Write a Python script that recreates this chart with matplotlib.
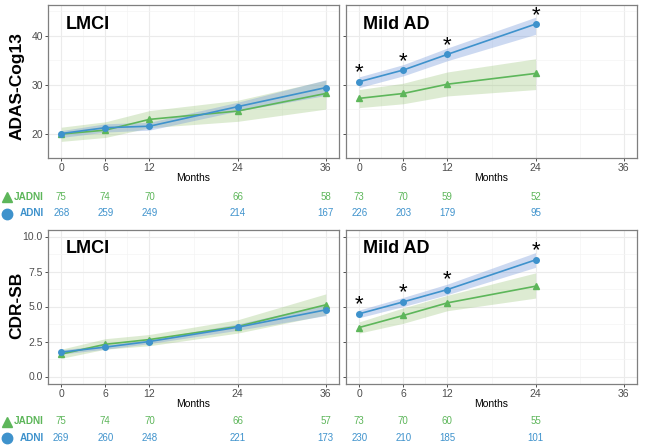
import matplotlib.pyplot as plt
import matplotlib.transforms as mtransforms
from matplotlib.lines import Line2D
import numpy as np

plt.rcParams['font.family'] = ['Liberation Sans', 'DejaVu Sans']

# Datos
meses = [0, 6, 12, 24, 36]
meses_ad = [0, 6, 12, 24]

# ADAS-Cog13, LMCI
adas_lmci_adni = [20.0, 21.2, 21.5, 25.5, 29.4]
adas_lmci_adni_lo = [19.2, 20.3, 20.7, 24.6, 27.8]
adas_lmci_adni_hi = [20.6, 22.0, 22.3, 26.4, 31.0]
adas_lmci_jadni = [19.9, 20.7, 22.9, 24.6, 28.2]
adas_lmci_jadni_lo = [18.4, 19.2, 21.2, 22.5, 25.0]
adas_lmci_jadni_hi = [21.3, 22.4, 24.7, 26.8, 30.9]

# ADAS-Cog13, Mild AD
adas_ad_adni = [30.6, 33.0, 36.2, 42.4]
adas_ad_adni_lo = [29.4, 31.8, 34.9, 40.3]
adas_ad_adni_hi = [31.6, 34.1, 37.5, 43.8]
adas_ad_jadni = [27.2, 28.2, 30.1, 32.3]
adas_ad_jadni_lo = [25.3, 26.1, 27.7, 29.0]
adas_ad_jadni_hi = [29.0, 30.3, 32.6, 35.3]

# CDR-SB, LMCI
cdr_lmci_adni = [1.74, 2.1, 2.5, 3.52, 4.76]
cdr_lmci_adni_lo = [1.6, 1.95, 2.35, 3.3, 4.35]
cdr_lmci_adni_hi = [1.9, 2.25, 2.65, 3.75, 5.15]
cdr_lmci_jadni = [1.6, 2.3, 2.64, 3.57, 5.12]
cdr_lmci_jadni_lo = [1.3, 1.95, 2.2, 3.1, 4.4]
cdr_lmci_jadni_hi = [1.95, 2.7, 3.0, 4.05, 5.9]

# CDR-SB, Mild AD
cdr_ad_adni = [4.48, 5.33, 6.21, 8.33]
cdr_ad_adni_lo = [4.2, 5.0, 5.85, 7.8]
cdr_ad_adni_hi = [4.75, 5.65, 6.6, 8.85]
cdr_ad_jadni = [3.5, 4.36, 5.26, 6.45]
cdr_ad_jadni_lo = [3.1, 3.8, 4.7, 5.6]
cdr_ad_jadni_hi = [3.9, 4.9, 5.8, 7.4]

# Número de sujetos
n_adas_lmci_jadni = [75, 74, 70, 66, 58]
n_adas_lmci_adni = [268, 259, 249, 214, 167]
n_adas_ad_jadni = [73, 70, 59, 52]
n_adas_ad_adni = [226, 203, 179, 95]
n_cdr_lmci_jadni = [75, 74, 70, 66, 57]
n_cdr_lmci_adni = [269, 260, 248, 221, 173]
n_cdr_ad_jadni = [73, 70, 60, 55]
n_cdr_ad_adni = [230, 210, 185, 101]

VERDE = '#5db65a'
AZUL = '#3e92cc'
VERDE_BANDA = '#8fbf6a'
AZUL_BANDA = '#6f93d8'
GRIS = '#4d4d4d'

W, H = 645, 447
fig = plt.figure(figsize=(W / 100, H / 100), dpi=100)


def caja(x0, y0, x1, y1):
    return [x0 / W, 1 - y1 / H, (x1 - x0) / W, (y1 - y0) / H]


def estilo(ax, ylim, yticks, yminor, ylabels):
    ax.set_xlim(-1.8, 37.8)
    ax.set_ylim(*ylim)
    ax.set_xticks([0, 6, 12, 24, 36])
    ax.set_xticks([3, 9, 18, 30], minor=True)
    ax.set_yticks(yticks)
    ax.set_yticks(yminor, minor=True)
    if ylabels is None:
        ax.set_yticklabels([])
    else:
        ax.set_yticklabels(ylabels)
    ax.grid(which='major', color='#ebebeb', linewidth=0.8)
    ax.grid(which='minor', color='#f4f4f4', linewidth=0.5)
    ax.set_axisbelow(True)
    ax.tick_params(which='major', length=2.2, width=0.6, color='#333333',
                   labelsize=7.5, labelcolor=GRIS, pad=1.5)
    ax.tick_params(which='minor', length=0)
    for s in ax.spines.values():
        s.set_color('#7f7f7f')
        s.set_linewidth(0.9)
    ax.set_xlabel('Months', fontsize=7.5, labelpad=0)


def panel(ax, x, jad, jlo, jhi, adn, alo, ahi, titulo, estrellas, off):
    ax.fill_between(x, jlo, jhi, color=VERDE_BANDA, alpha=0.3, lw=0, zorder=2)
    ax.fill_between(x, alo, ahi, color=AZUL_BANDA, alpha=0.35, lw=0, zorder=2)
    ax.plot(x, jad, color=VERDE, lw=1.2, marker='^', ms=4.5, zorder=3)
    ax.plot(x, adn, color=AZUL, lw=1.2, marker='o', ms=4, zorder=4)
    ax.text(0.06, 0.93, titulo, transform=ax.transAxes, fontsize=13,
            fontweight='bold', va='top', ha='left')
    if estrellas:
        for xi, yi in zip(x, adn):
            ax.text(xi, yi + off, '*', fontsize=16, ha='center', va='center')


def tabla(ax, x, nj, na, yj, ya):
    trans = mtransforms.blended_transform_factory(ax.transData, fig.transFigure)
    for xi, v in zip(x, nj):
        fig.text(xi, 1 - yj / H, str(v), transform=trans, color=VERDE,
                 fontsize=7, ha='center', va='center')
    for xi, v in zip(x, na):
        fig.text(xi, 1 - ya / H, str(v), transform=trans, color=AZUL,
                 fontsize=7, ha='center', va='center')


def leyenda(yj, ya):
    fig.add_artist(Line2D([7 / W], [1 - yj / H], marker='^', ms=7.5, color=VERDE,
                          ls='', transform=fig.transFigure))
    fig.add_artist(Line2D([7 / W], [1 - ya / H], marker='o', ms=7.5, color=AZUL,
                          ls='', transform=fig.transFigure))
    fig.text(44 / W, 1 - yj / H, 'JADNI', color=VERDE, fontsize=7.2,
             fontweight='bold', ha='right', va='center')
    fig.text(44 / W, 1 - ya / H, 'ADNI', color=AZUL, fontsize=7.2,
             fontweight='bold', ha='right', va='center')


# Fila superior: ADAS-Cog13
ax1 = fig.add_axes(caja(48, 5, 339, 158))
ax2 = fig.add_axes(caja(346, 5, 637, 158))
# Fila inferior: CDR-SB
ax3 = fig.add_axes(caja(48, 229.5, 339, 383.5))
ax4 = fig.add_axes(caja(346, 229.5, 637, 383.5))

ylim_adas = (16.8, 46.3)
ylim_cdr = (-0.5, 10.5)

panel(ax1, meses, adas_lmci_jadni, adas_lmci_jadni_lo, adas_lmci_jadni_hi,
      adas_lmci_adni, adas_lmci_adni_lo, adas_lmci_adni_hi, 'LMCI', False, 0)
panel(ax2, meses_ad, adas_ad_jadni, adas_ad_jadni_lo, adas_ad_jadni_hi,
      adas_ad_adni, adas_ad_adni_lo, adas_ad_adni_hi, 'Mild AD', True, 1.8)
panel(ax3, meses, cdr_lmci_jadni, cdr_lmci_jadni_lo, cdr_lmci_jadni_hi,
      cdr_lmci_adni, cdr_lmci_adni_lo, cdr_lmci_adni_hi, 'LMCI', False, 0)
panel(ax4, meses_ad, cdr_ad_jadni, cdr_ad_jadni_lo, cdr_ad_jadni_hi,
      cdr_ad_adni, cdr_ad_adni_lo, cdr_ad_adni_hi, 'Mild AD', True, 0.68)

estilo(ax1, ylim_adas, [20, 30, 40], [15, 25, 35, 45], ['20', '30', '40'])
estilo(ax2, ylim_adas, [20, 30, 40], [15, 25, 35, 45], None)
cdr_ticks = [0, 2.5, 5.0, 7.5, 10.0]
estilo(ax3, ylim_cdr, cdr_ticks, [1.25, 3.75, 6.25, 8.75],
       ['0.0', '2.5', '5.0', '7.5', '10.0'])
estilo(ax4, ylim_cdr, cdr_ticks, [1.25, 3.75, 6.25, 8.75], None)

ax1.set_ylabel('ADAS-Cog13', fontsize=12.5, fontweight='bold')
ax1.yaxis.set_label_coords(-0.079, 0.47)
ax3.set_ylabel('CDR-SB', fontsize=12.5, fontweight='bold')
ax3.yaxis.set_label_coords(-0.082, 0.506)

tabla(ax1, meses, n_adas_lmci_jadni, n_adas_lmci_adni, 197, 213.5)
tabla(ax2, meses_ad, n_adas_ad_jadni, n_adas_ad_adni, 197, 213.5)
tabla(ax3, meses, n_cdr_lmci_jadni, n_cdr_lmci_adni, 421.5, 438)
tabla(ax4, meses_ad, n_cdr_ad_jadni, n_cdr_ad_adni, 421.5, 438)
leyenda(197, 213.5)
leyenda(421.5, 438)

fig.savefig('out.png', dpi=100)
